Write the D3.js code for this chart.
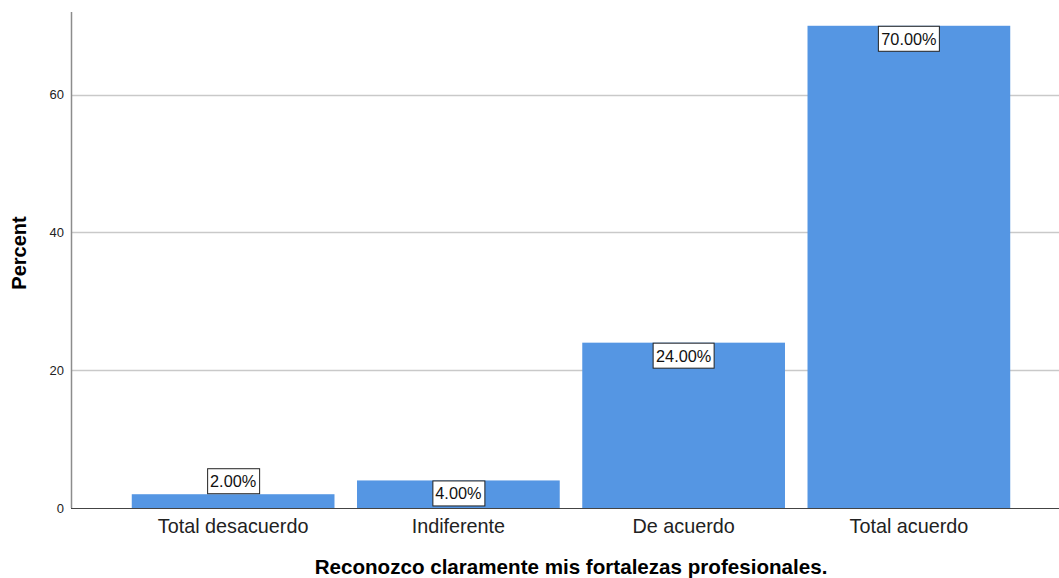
<!DOCTYPE html>
<html>
<head>
<meta charset="utf-8">
<script src="https://cdn.jsdelivr.net/npm/d3@7"></script>
<style>
  body { margin: 0; background: #fff; }
  text { font-family: "Liberation Sans", Arial, sans-serif; }
</style>
</head>
<body>
<svg id="chart" width="1059" height="578"></svg>
<script>
const categories = ["Total desacuerdo", "Indiferente", "De acuerdo", "Total acuerdo"];
const percents = [2, 4, 24, 70];
const yTicks = [0, 20, 40, 60];
const xTitle = "Reconozco claramente mis fortalezas profesionales.";
const yTitle = "Percent";

const width = 1059;
const height = 578;
const axisLeft = 71, axisRight = 1059, plotTop = 12, plotBottom = 508;

const svg = d3.select("#chart");

const x = d3.scaleBand()
    .domain(categories)
    .range([120.5, 1021.5])
    .paddingInner(0.1)
    .paddingOuter(0.05);

const y = d3.scaleLinear()
    .domain([0, 72])
    .range([plotBottom, plotTop]);

// gridlines
svg.append("g")
    .selectAll("line")
    .data(yTicks.filter(d => d > 0))
    .join("line")
    .attr("x1", axisLeft)
    .attr("x2", axisRight)
    .attr("y1", d => Math.round(y(d)) + 0.5)
    .attr("y2", d => Math.round(y(d)) + 0.5)
    .attr("stroke", "#c9c9c9")
    .attr("stroke-width", 1.5);

// bars
svg.append("g")
    .selectAll("rect")
    .data(categories)
    .join("rect")
    .attr("x", d => x(d))
    .attr("width", x.bandwidth())
    .attr("y", (d, i) => y(percents[i]))
    .attr("height", (d, i) => plotBottom - y(percents[i]))
    .attr("fill", "#5596e3");

// y axis
const yAxis = svg.append("g")
    .attr("transform", `translate(${axisLeft},0)`)
    .call(d3.axisLeft(y).tickValues(yTicks).tickSize(0).tickPadding(7));
yAxis.select(".domain").attr("stroke", "#8c8c8c").attr("stroke-width", 1.5)
    .attr("d", `M0.5,${plotTop}V${plotBottom}`);
yAxis.selectAll("text")
    .attr("font-size", 13)
    .attr("fill", "#222");

// x axis
const xAxis = svg.append("g")
    .attr("transform", `translate(0,${plotBottom})`)
    .call(d3.axisBottom(x).tickSize(0).tickPadding(11));
xAxis.select(".domain").attr("stroke", "#444").attr("stroke-width", 1.2)
    .attr("d", `M${axisLeft},0.5H${axisRight}`);
xAxis.selectAll("text")
    .attr("font-size", 19.8)
    .attr("fill", "#222");

// data labels
const labels = svg.append("g")
    .selectAll("g")
    .data(categories)
    .join("g")
    .attr("transform", (d, i) => {
        const cx = x(d) + x.bandwidth() / 2;
        const by = y(percents[i]);
        // small bars get the label above the bar
        const ty = (plotBottom - by) < 26 ? by - 26 : by;
        return `translate(${cx},${ty})`;
    });

labels.append("text")
    .attr("text-anchor", "middle")
    .attr("y", 19)
    .attr("font-size", 16.3)
    .attr("fill", "#111")
    .text((d, i) => percents[i].toFixed(2) + "%");

labels.each(function () {
    const g = d3.select(this);
    const bb = g.select("text").node().getBBox();
    g.insert("rect", "text")
        .attr("x", Math.round(bb.x - 3) + 0.5)
        .attr("y", 0.5)
        .attr("width", Math.round(bb.width + 6))
        .attr("height", 25)
        .attr("fill", "#fff")
        .attr("stroke", "#222")
        .attr("stroke-width", 1);
});

// axis titles
svg.append("text")
    .attr("x", 571)
    .attr("y", 574)
    .attr("text-anchor", "middle")
    .attr("font-size", 20.6)
    .attr("font-weight", "bold")
    .attr("fill", "#000")
    .text(xTitle);

svg.append("text")
    .attr("transform", "translate(26,253) rotate(-90)")
    .attr("text-anchor", "middle")
    .attr("font-size", 20)
    .attr("font-weight", "bold")
    .attr("fill", "#000")
    .text(yTitle);
</script>
</body>
</html>
